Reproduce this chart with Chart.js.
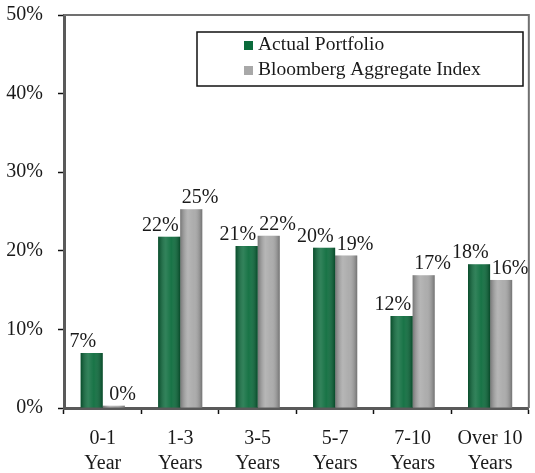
<!DOCTYPE html>
<html>
<head>
<meta charset="utf-8">
<script src="https://cdn.jsdelivr.net/npm/chart.js@4/dist/chart.umd.min.js"></script>
<style>
    html, body { margin: 0; padding: 0; background: #ffffff; }
    #wrap { width: 535px; height: 473px; }
</style>
</head>
<body>
<div id="wrap"><canvas id="maturityChart" width="535" height="473"></canvas></div>
<script>
// categories (two-line tick labels)
const categories = [
    ['0-1', 'Year'],
    ['1-3', 'Years'],
    ['3-5', 'Years'],
    ['5-7', 'Years'],
    ['7-10', 'Years'],
    ['Over 10', 'Years']
];

// series values, in percent
const actualPortfolio = [7.0, 21.8, 20.6, 20.4, 11.7, 18.3];
const bloombergIndex = [0.3, 25.3, 21.9, 19.4, 16.9, 16.3];

const seriesNames = ['Actual Portfolio', 'Bloomberg Aggregate Index'];

// y axis ticks
const yTicks = [0, 10, 20, 30, 40, 50];

document.addEventListener('DOMContentLoaded', () => {

    if (typeof Chart === 'undefined') {
        console.error("Chart.js failed to load.");
        return;
    }

    const ctx = document.getElementById('maturityChart');
    if (!ctx) return;

    const green = '#0a6b3b';
    const gray = '#a8a8a8';
    const axisColor = '#5a5a5a';
    const textColor = '#1a1a1a';
    const serif = "'Liberation Serif', 'DejaVu Serif', serif";

    // shading + value labels on the bars
    const barDecor = {
        id: 'barDecor',
        afterDatasetsDraw(chart) {
            const c = chart.ctx;
            chart.data.datasets.forEach((ds, di) => {
                const meta = chart.getDatasetMeta(di);
                meta.data.forEach((bar, i) => {
                    const p = bar.getProps(['x', 'y', 'base', 'width'], true);
                    const left = p.x - p.width / 2;
                    const right = p.x + p.width / 2;
                    const g = c.createLinearGradient(left, 0, right, 0);
                    g.addColorStop(0, 'rgba(0,0,0,0.30)');
                    g.addColorStop(0.35, 'rgba(255,255,255,0.16)');
                    g.addColorStop(0.6, 'rgba(255,255,255,0.06)');
                    g.addColorStop(1, 'rgba(0,0,0,0.32)');
                    c.save();
                    c.fillStyle = g;
                    c.fillRect(left, p.y, p.width, p.base - p.y);
                    c.restore();

                    // value label
                    const shift = di === 0 ? -0.4 * p.width : 0.4 * p.width;
                    c.save();
                    c.font = '20px ' + serif;
                    c.fillStyle = textColor;
                    c.textAlign = 'center';
                    c.textBaseline = 'alphabetic';
                    c.fillText(Math.round(ds.data[i]) + '%', p.x + shift, p.y - 6);
                    c.restore();
                });
            });
        }
    };

    // top / right frame lines and the boxed legend
    const frameAndLegend = {
        id: 'frameAndLegend',
        afterDraw(chart) {
            const c = chart.ctx;
            const a = chart.chartArea;
            c.save();
            c.strokeStyle = '#707070';
            c.lineWidth = 2;
            c.beginPath();
            c.moveTo(a.left, a.top);
            c.lineTo(a.right, a.top);
            c.lineTo(a.right, a.bottom);
            c.stroke();
            c.restore();

            // legend box
            const bx = 197, by = 32, bw = 326, bh = 54;
            c.save();
            c.fillStyle = '#ffffff';
            c.fillRect(bx, by, bw, bh);
            c.strokeStyle = '#111111';
            c.lineWidth = 1.5;
            c.strokeRect(bx, by, bw, bh);
            c.font = '19.5px ' + serif;
            c.fillStyle = textColor;
            c.textBaseline = 'alphabetic';
            chart.data.datasets.forEach((ds, di) => {
                const rowY = by + 18 + di * 25;
                c.fillStyle = ds.backgroundColor;
                c.fillRect(bx + 47, rowY - 9, 9, 9);
                c.fillStyle = textColor;
                c.fillText(ds.label, bx + 61, rowY);
            });
            c.restore();
        }
    };

    const data = {
        labels: categories,
        datasets: [{
            label: seriesNames[0],
            data: actualPortfolio,
            backgroundColor: green,
            borderWidth: 0
        }, {
            label: seriesNames[1],
            data: bloombergIndex,
            backgroundColor: gray,
            borderWidth: 0
        }]
    };

    const config = {
        type: 'bar',
        data: data,
        options: {
            responsive: false,
            animation: false,
            layout: {
                padding: { top: 15, right: 5, left: 0, bottom: 0 }
            },
            datasets: {
                bar: {
                    categoryPercentage: 0.57,
                    barPercentage: 1.0
                }
            },
            plugins: {
                legend: { display: false },
                tooltip: { enabled: false }
            },
            scales: {
                x: {
                    afterFit: (scale) => { scale.height = 65; },
                    border: { display: true, color: axisColor, width: 3 },
                    grid: {
                        offset: true,
                        drawOnChartArea: false,
                        drawTicks: true,
                        tickLength: 6,
                        tickColor: '#111111',
                        tickWidth: 1.5
                    },
                    ticks: {
                        font: { family: serif, size: 20, lineHeight: 1.25 },
                        color: textColor,
                        padding: 12,
                        maxRotation: 0,
                        autoSkip: false
                    }
                },
                y: {
                    min: 0,
                    max: 50,
                    afterFit: (scale) => {
                        scale.width = 64;
                        scale.paddingTop = 0;
                        scale.paddingBottom = 0;
                    },
                    afterBuildTicks: (scale) => {
                        scale.ticks = yTicks.map(v => ({ value: v }));
                    },
                    border: { display: true, color: axisColor, width: 3 },
                    grid: {
                        drawOnChartArea: false,
                        drawTicks: true,
                        tickLength: 6,
                        tickColor: '#111111',
                        tickWidth: 1.5
                    },
                    ticks: {
                        font: { family: serif, size: 20 },
                        color: textColor,
                        padding: 15,
                        callback: function(value) {
                            return value + '%';
                        }
                    }
                }
            }
        },
        plugins: [barDecor, frameAndLegend]
    };

    new Chart(ctx, config);
});
</script>
</body>
</html>
